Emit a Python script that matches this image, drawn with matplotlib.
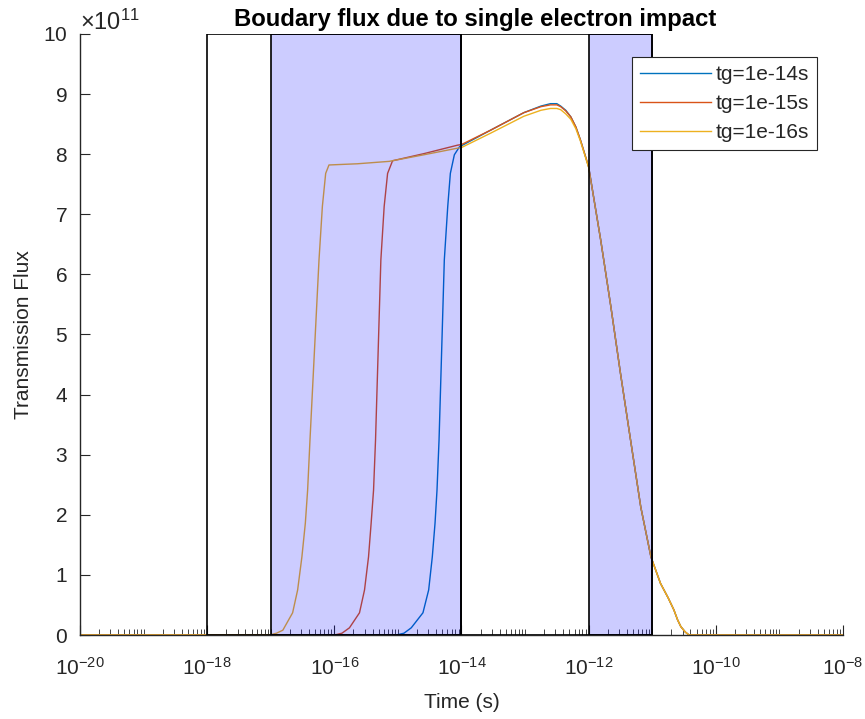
import numpy as np
import matplotlib
matplotlib.use("Agg")
import matplotlib.pyplot as plt
from matplotlib.patches import Rectangle
from matplotlib.ticker import FixedLocator, ScalarFormatter, LogFormatterMathtext, NullFormatter

plt.rcParams['font.family'] = ['Liberation Sans', 'DejaVu Sans']
plt.rcParams['mathtext.fontset'] = 'custom'
plt.rcParams['mathtext.rm'] = 'Liberation Sans'
plt.rcParams['mathtext.it'] = 'Liberation Sans:italic'
plt.rcParams['mathtext.bf'] = 'Liberation Sans:bold'
plt.rcParams['xtick.labelsize'] = 15
plt.rcParams['ytick.labelsize'] = 15

# ---- data (log10 of time in s, flux in units of 1e11) ----
labels = ['tg=1e-14s', 'tg=1e-15s', 'tg=1e-16s']
colors = ['#0072BD', '#D95319', '#EDB120']

tail_logt = [-13.54, -13.02, -12.75, -12.6, -12.5, -12.44, -12.36, -12.28, -12.2, -12.13,
             -12.0, -11.81, -11.65, -11.5, -11.34, -11.18, -11.02, -10.87, -10.75,
             -10.66, -10.6, -10.55, -10.48, -10.42, -8]

logt_14 = [-20, -15.027, -14.905, -14.79, -14.606, -14.516, -14.459, -14.416, -14.385,
           -14.353, -14.27, -14.216, -14.175, -14.112, -14.033, -14.0] + tail_logt
flux_14 = [0, 0, 0.03, 0.12, 0.37, 0.75, 1.30, 1.86, 2.41,
           3.24, 6.24, 7.13, 7.68, 7.99, 8.12, 8.14,
           8.4, 8.69, 8.8, 8.84, 8.84, 8.8, 8.73, 8.62, 8.45, 8.24,
           7.79, 6.57, 5.46, 4.36, 3.24, 2.13, 1.3, 0.86, 0.62,
           0.42, 0.25, 0.14, 0.05, 0, 0]

logt_15 = [-20, -16.0, -15.88, -15.762, -15.604, -15.525, -15.462, -15.421, -15.383,
           -15.352, -15.268, -15.216, -15.162, -15.084, -14.585, -14.06, -14.0] + tail_logt
flux_15 = [0, 0, 0.03, 0.12, 0.37, 0.75, 1.30, 1.86, 2.41,
           3.24, 6.24, 7.13, 7.68, 7.89, 8.01, 8.15, 8.16,
           8.4, 8.69, 8.79, 8.82, 8.82, 8.79, 8.72, 8.62, 8.45, 8.24,
           7.79, 6.57, 5.46, 4.36, 3.24, 2.13, 1.3, 0.86, 0.62,
           0.42, 0.25, 0.14, 0.05, 0, 0]

logt_16 = [-20, -17.02, -16.91, -16.81, -16.656, -16.577, -16.51, -16.456, -16.42,
           -16.383, -16.241, -16.188, -16.136, -16.084, -15.636, -15.137, -14.59, -14.06,
           -14.0] + tail_logt
flux_16 = [0, 0, 0.03, 0.08, 0.37, 0.75, 1.30, 1.86, 2.41,
           3.24, 6.24, 7.13, 7.68, 7.82, 7.84, 7.88, 7.99, 8.1,
           8.11,
           8.35, 8.63, 8.73, 8.76, 8.76, 8.74, 8.67, 8.58, 8.42, 8.22,
           7.78, 6.57, 5.46, 4.36, 3.24, 2.13, 1.3, 0.86, 0.62,
           0.42, 0.25, 0.14, 0.05, 0, 0]

# windows (log10 time): outlined and shaded
outline_windows = [(-18, -14), (-14, -11)]
shade_windows = [(-17, -14), (-12, -11)]
y_top = 10  # in units of 1e11

series = [(logt_14, flux_14), (logt_15, flux_15), (logt_16, flux_16)]

fig = plt.figure(figsize=(8.65, 7.19), dpi=100)
ax = fig.add_axes([0.0925, 0.1168, 0.882, 0.836])

axcol = '#262626'
for (lt, fl), c, lab in zip(series, colors, labels):
    ax.plot(10.0 ** np.array(lt), np.array(fl) * 1e11, color=c, lw=1.0, label=lab, zorder=2)

for a, b in outline_windows:
    ax.add_patch(Rectangle((10.0 ** a, 0), 10.0 ** b - 10.0 ** a, y_top * 1e11,
                           facecolor='none', edgecolor='black', lw=1.2, zorder=3))
for a, b in shade_windows:
    ax.add_patch(Rectangle((10.0 ** a, 0), 10.0 ** b - 10.0 ** a, y_top * 1e11,
                           facecolor=(0, 0, 1, 0.2), edgecolor='black', lw=1.2, zorder=3))

ax.set_xscale('log')
ax.set_xlim(1e-20, 1e-8)
ax.set_ylim(0, 1e12)

major = [10.0 ** k for k in range(-20, -7, 2)]
minor = []
for k in range(-20, -8):
    for m in range(1, 10):
        if m == 1 and k % 2 == 0:
            continue
        minor.append(m * 10.0 ** k)
ax.xaxis.set_major_locator(FixedLocator(major))
ax.xaxis.set_major_formatter(LogFormatterMathtext())
ax.xaxis.set_minor_locator(FixedLocator(minor))
ax.xaxis.set_minor_formatter(NullFormatter())

ax.set_yticks(np.arange(0, 11) * 1e11)
fmt = ScalarFormatter(useMathText=True)
fmt.set_powerlimits((11, 11))
ax.yaxis.set_major_formatter(fmt)

for s in ['top', 'right']:
    ax.spines[s].set_visible(False)
for s in ['left', 'bottom']:
    ax.spines[s].set_color(axcol)
    ax.spines[s].set_linewidth(1.0)

ax.tick_params(axis='both', which='major', direction='in', length=7, width=0.8,
               colors=axcol, labelsize=15)
ax.tick_params(axis='x', which='major', pad=16)
ax.tick_params(axis='y', which='major', pad=9)
ax.tick_params(axis='x', which='minor', direction='in', length=4, width=0.6, colors=axcol)
ax.yaxis.get_offset_text().set_fontsize(17)
ax.yaxis.get_offset_text().set_color(axcol)

ax.set_xlabel('Time (s)', fontsize=15, color=axcol, labelpad=10)
ax.set_ylabel('Transmission Flux', fontsize=15, color=axcol, labelpad=7)
ax.set_title('Boudary flux due to single electron impact', fontsize=17.2,
             fontweight='bold', color='black', pad=6, x=0.518)

leg = ax.legend(loc='upper right', bbox_to_anchor=(0.966, 0.962), borderaxespad=0,
                fontsize=15, handlelength=3.4, handletextpad=0.2, labelspacing=0.48,
                borderpad=0.4, fancybox=False, framealpha=1, edgecolor=axcol)
leg.get_frame().set_linewidth(0.8)
for t in leg.get_texts():
    t.set_color(axcol)
leg.set_zorder(5)

fig.savefig('out.png', dpi=100)
